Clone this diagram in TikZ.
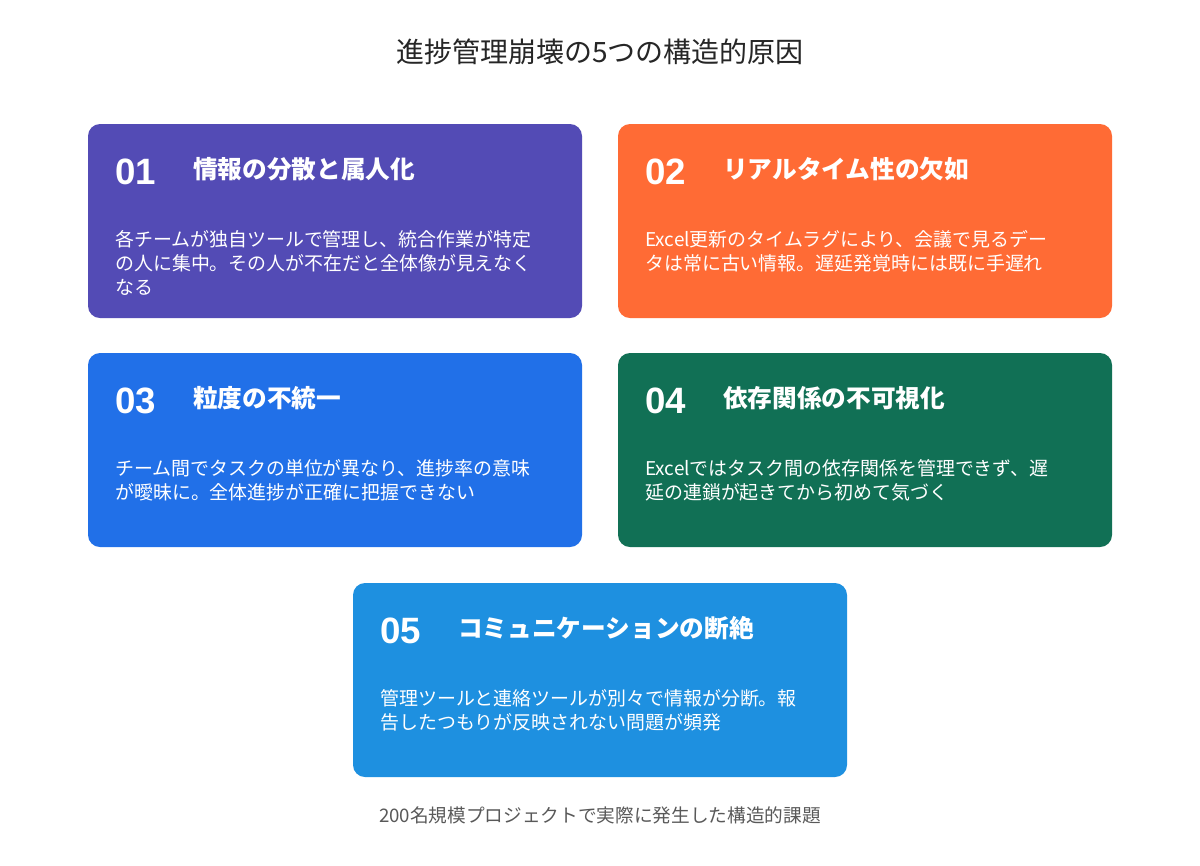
\documentclass[tikz,border=0pt]{standalone}
\usepackage{fontspec}
\setmainfont{Noto Sans CJK JP}
\newfontfamily\numfont{Liberation Sans}
\begin{document}
\begin{tikzpicture}[x=0.75pt,y=-0.75pt,
 card/.style={rounded corners=9pt,draw=none},
 num/.style={anchor=west,text=white,font=\numfont\fontsize{27.5}{30}\selectfont\bfseries,inner sep=0},
 head/.style={anchor=west,text=white,font=\fontsize{18.5}{20}\selectfont\bfseries,inner sep=0},
 body/.style={anchor=north west,text=white,align=left,font=\fontsize{14.2}{18}\selectfont,inner sep=0}]
\definecolor{c1}{HTML}{534BB5}
\definecolor{c2}{HTML}{FF6B35}
\definecolor{c3}{HTML}{2170E8}
\definecolor{c4}{HTML}{117055}
\definecolor{c5}{HTML}{1E90E0}
\useasboundingbox[fill=white] (0,0) rectangle (1200,865);
\node[font=\fontsize{21}{24}\selectfont,text=black!85] (title) at (600,52) {進捗管理崩壊の5つの構造的原因};
\newcommand\mycard[7]{%
 \fill[#3,card] (#1,#2) rectangle ++(494,194);
 \node[num] (n#7) at (#1+27,#2+48) {#4};
 \node[head] (h#7) at (#1+105,#2+45) {#5};
 \node[body] (b#7) at (#1+27,#2+106) {#6};}
\mycard{88}{124}{c1}{01}{情報の分散と属人化}{各チームが独自ツールで管理し、統合作業が特定\\の人に集中。その人が不在だと全体像が見えなく\\なる}{1}
\mycard{618}{124}{c2}{02}{リアルタイム性の欠如}{Excel更新のタイムラグにより、会議で見るデー\\タは常に古い情報。遅延発覚時には既に手遅れ}{2}
\mycard{88}{353}{c3}{03}{粒度の不統一}{チーム間でタスクの単位が異なり、進捗率の意味\\が曖昧に。全体進捗が正確に把握できない}{3}
\mycard{618}{353}{c4}{04}{依存関係の不可視化}{Excelではタスク間の依存関係を管理できず、遅\\延の連鎖が起きてから初めて気づく}{4}
\mycard{353}{583}{c5}{05}{コミュニケーションの断絶}{管理ツールと連絡ツールが別々で情報が分断。報\\告したつもりが反映されない問題が頻発}{5}
\node[font=\fontsize{14}{16}\selectfont,text=black!65] (foot) at (600,815) {200名規模プロジェクトで実際に発生した構造的課題};
\end{tikzpicture}
\end{document}
